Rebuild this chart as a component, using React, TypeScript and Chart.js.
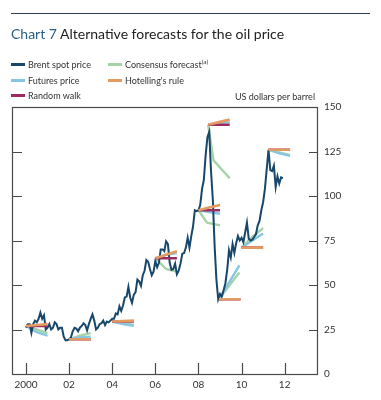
import React, { useEffect, useRef } from "react";
import { Chart, registerables } from "chart.js";

Chart.register(...registerables);

// ---------- DATA ----------
const brentStartYear = 2000;
// Brent spot price, US dollars per barrel, monthly Jan 2000 - Dec 2011
const brentMonthly = [
  26, 28, 28, 23, 28, 30, 29, 31, 34.5, 31, 33, 25,
  26, 28, 25, 26, 29, 28, 25, 26, 26, 21, 19, 19,
  19.5, 20.5, 24, 26, 25.5, 24, 26, 27, 28.5, 27.5, 24.5, 28,
  31, 33.5, 30, 25, 26, 28, 28.5, 30, 27.5, 29.5, 29, 30,
  31, 31, 34, 33.5, 38, 35.5, 38.5, 43, 43.5, 49, 43, 40,
  44.5, 46, 53, 52, 49.5, 55.5, 58, 64, 63, 59, 55.5, 57.5,
  63.5, 60, 62.5, 70, 70, 69, 74.5, 73, 62.5, 58.5, 59, 62,
  56, 58, 62, 67.5, 68, 71, 76.5, 71, 77.5, 83, 92, 91.5,
  92, 95, 104, 109, 123, 133, 136, 114, 98, 72, 53, 42,
  45, 43.5, 47, 51, 58.5, 69.5, 65.5, 73, 68, 73.5, 77.5, 75,
  76.5, 74, 79.5, 85, 76, 75, 75.5, 77, 78.5, 83.5, 86, 92,
  96.5, 104, 115, 126, 114.5, 114, 117, 105, 111, 107, 110.5, 110,
];

// forecast paths: [year, value] points, one path per forecast date
const consensusForecasts = [
  [[2000, 27], [2000.5, 25], [2001, 23]],
  [[2002, 19.5], [2002.5, 21.5], [2003, 23]],
  [[2004, 29.5], [2004.5, 28.5], [2005, 27.5]],
  [[2006, 65], [2006.5, 59], [2007, 57.5]],
  [[2008, 92], [2008.4, 85], [2009, 83.5]],
  [[2008.45, 140], [2008.7, 120], [2009.45, 110]],
  [[2008.95, 42], [2009.45, 50], [2009.9, 57]],
  [[2010, 71], [2010.5, 77], [2011, 82]],
  [[2011.25, 126], [2011.75, 124.5], [2012.25, 123]],
];
const futuresForecasts = [
  [[2000, 27], [2000.5, 23.5], [2001, 21.5]],
  [[2002, 19.5], [2002.5, 20.5], [2003, 21]],
  [[2004, 29.5], [2004.5, 28], [2005, 27]],
  [[2006, 65], [2006.5, 67], [2007, 68]],
  [[2008, 92], [2008.5, 91], [2009, 90]],
  [[2008.45, 140], [2008.95, 141], [2009.45, 141.5]],
  [[2008.95, 42], [2009.45, 52], [2009.9, 61]],
  [[2010, 71], [2010.5, 75], [2011, 79]],
  [[2011.25, 126], [2011.75, 124], [2012.25, 122.5]],
];
const hotellingForecasts = [
  [[2000, 27], [2000.5, 27.5], [2001, 28]],
  [[2002, 19.5], [2002.5, 19.5], [2003, 19.5]],
  [[2004, 29.5], [2004.5, 29.7], [2005, 30]],
  [[2006, 65], [2006.5, 67], [2007, 69]],
  [[2008, 92], [2008.5, 93.5], [2009, 95]],
  [[2008.45, 140], [2008.95, 141.5], [2009.45, 143]],
  [[2008.95, 42], [2009.45, 42], [2009.95, 42]],
  [[2010, 71], [2010.5, 71], [2011, 71]],
  [[2011.25, 126], [2011.75, 126], [2012.25, 126]],
];
const randomWalkForecasts = [
  [[2000, 27], [2001, 27]],
  [[2002, 19.5], [2003, 19.5]],
  [[2004, 29.5], [2005, 29.5]],
  [[2006, 65], [2007, 65]],
  [[2008, 92], [2009, 92]],
  [[2008.45, 140], [2009.45, 140]],
  [[2008.95, 42], [2009.95, 42]],
  [[2010, 71], [2011, 71]],
  [[2011.25, 126], [2012.25, 126]],
];

const xTickYears = [2000, 2002, 2004, 2006, 2008, 2010, 2012];
const xTickLabels = ["2000", "02", "04", "06", "08", "10", "12"];
const yTickValues = [0, 25, 50, 75, 100, 125, 150];

const COLORS = {
  brent: "#17476a",
  consensus: "#a6d3a8",
  futures: "#86c6e2",
  hotelling: "#e49b62",
  randomWalk: "#9b2c63",
  axis: "#4a4a4a",
  text: "#333333",
};
const FONT = "Lato, 'Noto Sans', sans-serif";

function pathsToData(paths: number[][][]) {
  const out: { x: number; y: number | null }[] = [];
  paths.forEach((p, i) => {
    if (i > 0) out.push({ x: p[0][0], y: null });
    p.forEach(([x, y]) => out.push({ x, y }));
  });
  return out;
}

const framePlugin = {
  id: "frame",
  afterDatasetsDraw(chart: any) {
    const { ctx, chartArea, scales } = chart;
    const { left, right, top, bottom } = chartArea;
    ctx.save();
    ctx.strokeStyle = COLORS.axis;
    ctx.lineWidth = 1.2;
    ctx.strokeRect(left + 0.5, top + 0.5, right - left, bottom - top);
    yTickValues.forEach((v) => {
      if (v === 0 || v === 150) return;
      const py = Math.round(scales.y.getPixelForValue(v)) + 0.5;
      ctx.beginPath();
      ctx.moveTo(left, py);
      ctx.lineTo(left + 10, py);
      ctx.moveTo(right - 8, py);
      ctx.lineTo(right, py);
      ctx.stroke();
    });
    xTickYears.forEach((v) => {
      const px = Math.round(scales.x.getPixelForValue(v)) + 0.5;
      ctx.beginPath();
      ctx.moveTo(px, bottom);
      ctx.lineTo(px, bottom - 11);
      ctx.stroke();
    });
    ctx.restore();
  },
};

function ChartCanvas() {
  const ref = useRef<HTMLCanvasElement>(null);
  useEffect(() => {
    if (!ref.current) return;
    const brentData = brentMonthly.map((v, i) => ({ x: brentStartYear + i / 12, y: v }));
    const lineBase = {
      pointRadius: 0,
      pointHoverRadius: 0,
      spanGaps: false,
      tension: 0,
      fill: false,
    };
    const chart = new Chart(ref.current, {
      type: "line",
      data: {
        datasets: [
          {
            ...lineBase,
            label: "Hotelling's rule",
            data: pathsToData(hotellingForecasts),
            borderColor: COLORS.hotelling,
            borderWidth: 2.6,
            order: 0,
          },
          {
            ...lineBase,
            label: "Random walk",
            data: pathsToData(randomWalkForecasts),
            borderColor: COLORS.randomWalk,
            borderWidth: 2.6,
            order: 1,
          },
          {
            ...lineBase,
            label: "Brent spot price",
            data: brentData,
            borderColor: COLORS.brent,
            borderWidth: 2,
            order: 2,
          },
          {
            ...lineBase,
            label: "Futures price",
            data: pathsToData(futuresForecasts),
            borderColor: COLORS.futures,
            borderWidth: 2.4,
            order: 3,
          },
          {
            ...lineBase,
            label: "Consensus forecast",
            data: pathsToData(consensusForecasts),
            borderColor: COLORS.consensus,
            borderWidth: 2.4,
            order: 4,
          },
        ] as any,
      },
      options: {
        animation: false,
        responsive: false,
        devicePixelRatio: 1,
        layout: { padding: { left: 12, top: 107, right: 0, bottom: 0 } },
        plugins: { legend: { display: false }, tooltip: { enabled: false }, title: { display: false } },
        scales: {
          x: {
            type: "linear",
            min: 1999.35,
            max: 2013.5,
            grid: { display: false, drawTicks: false },
            border: { display: false },
            afterBuildTicks: (scale: any) => {
              scale.ticks = xTickYears.map((v) => ({ value: v }));
            },
            afterFit: (scale: any) => {
              scale.height = 26;
            },
            ticks: {
              padding: 5,
              maxRotation: 0,
              autoSkip: false,
              color: COLORS.text,
              font: { family: FONT, size: 10 },
              callback: (value: any) => {
                const i = xTickYears.indexOf(Number(value));
                return i >= 0 ? xTickLabels[i] : "";
              },
            },
          },
          y: {
            type: "linear",
            position: "right",
            min: 0,
            max: 150,
            grid: { display: false, drawTicks: false },
            border: { display: false },
            afterBuildTicks: (scale: any) => {
              scale.ticks = yTickValues.map((v) => ({ value: v }));
            },
            afterFit: (scale: any) => {
              scale.width = 64;
            },
            ticks: {
              padding: 7,
              color: COLORS.text,
              font: { family: FONT, size: 10 },
            },
          },
        },
      } as any,
      plugins: [framePlugin],
    });
    return () => chart.destroy();
  }, []);
  return (
    <canvas
      ref={ref}
      width={381}
      height={400}
      style={{ position: "absolute", left: 0, top: 0, width: 381, height: 400 }}
    />
  );
}

const legendItems = [
  { label: "Brent spot price", color: COLORS.brent, x: 11, y: 64 },
  { label: "Futures price", color: COLORS.futures, x: 11, y: 80 },
  { label: "Random walk", color: COLORS.randomWalk, x: 11, y: 95 },
  { label: "Consensus forecast", sup: "(a)", color: COLORS.consensus, x: 108, y: 64 },
  { label: "Hotelling's rule", color: COLORS.hotelling, x: 108, y: 80 },
];

export default function App() {
  return (
    <div
      style={{
        position: "absolute",
        left: 0,
        top: 0,
        width: 381,
        height: 400,
        background: "#ffffff",
        overflow: "hidden",
        fontFamily: FONT,
      }}
    >
      <ChartCanvas />
      <div style={{ position: "absolute", left: 11, top: 13, width: 359, height: 1, background: "#2e4050" }} />
      <div
        style={{
          position: "absolute",
          left: 11,
          top: 24,
          fontSize: 14,
          lineHeight: "20px",
          whiteSpace: "nowrap",
          color: "#222",
        }}
      >
        <span style={{ color: "#2b5f82" }}>Chart 7</span>{" "}
        <span>Alternative forecasts for the oil price</span>
      </div>
      {legendItems.map((it) => (
        <div
          key={it.label}
          style={{ position: "absolute", left: it.x, top: it.y - 6, height: 12, display: "flex", alignItems: "center", whiteSpace: "nowrap" }}
        >
          <div style={{ width: 14, height: 3, background: it.color, marginRight: 3 }} />
          <span style={{ fontSize: 9, color: COLORS.text }}>
            {it.label}
            {it.sup ? <sup style={{ fontSize: 6.5 }}>{it.sup}</sup> : null}
          </span>
        </div>
      ))}
      <div
        style={{
          position: "absolute",
          right: 381 - 315,
          top: 91,
          fontSize: 9,
          lineHeight: "12px",
          color: COLORS.text,
          whiteSpace: "nowrap",
        }}
      >
        US dollars per barrel
      </div>
    </div>
  );
}
